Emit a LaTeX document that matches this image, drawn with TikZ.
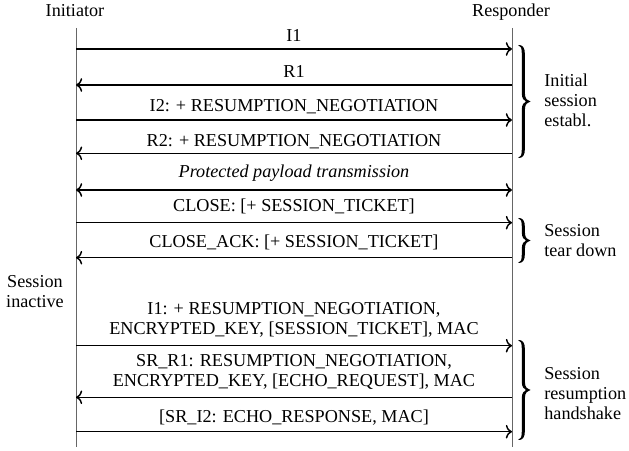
\documentclass[tikz,border=0pt]{standalone}
\usepackage{fontspec}
\setmainfont{Liberation Serif}
\usetikzlibrary{arrows.meta}
\tikzset{
  lifeline/.style={draw=black!60, line width=0.55pt},
  msgline/.style={line width=0.8pt, -{To[length=3.4pt,width=7.5pt]}},
  bimsgline/.style={line width=0.8pt, {To[length=3.4pt,width=7.5pt]}-{To[length=3.4pt,width=7.5pt]}},
  lbl/.style={font=\fontsize{10}{11.2}\selectfont, inner sep=0pt, anchor=base, align=center},
  sidelbl/.style={font=\fontsize{10}{11}\selectfont, inner sep=0pt, align=left, anchor=base west},
  bracefill/.style={fill=black},
}
% #1 = x of tips, #2 = top y, #3 = bottom y (picture pixels)
\newcommand{\respbrace}[3]{%
 \pgfmathsetmacro{\bym}{(#2+#3)/2}%
 \fill[bracefill] ({#1},{#2}) .. controls ({#1+4.5},{#2-0.4}) and ({#1+6.9},{#2+2.5}) .. ({#1+6.9},{#2+9})
   -- ({#1+6.9},{\bym-8}) .. controls ({#1+6.9},{\bym-2.5}) and ({#1+9.5},{\bym-0.6}) .. ({#1+12.5},{\bym})
   .. controls ({#1+9.5},{\bym+0.6}) and ({#1+6.9},{\bym+2.5}) .. ({#1+6.9},{\bym+8})
   -- ({#1+6.9},{#3-9}) .. controls ({#1+6.9},{#3-2.5}) and ({#1+4.5},{#3+0.4}) .. ({#1},{#3})
   .. controls ({#1+3},{#3-0.7}) and ({#1+3.8},{#3-3}) .. ({#1+3.8},{#3-9})
   -- ({#1+3.8},{\bym+8}) .. controls ({#1+3.8},{\bym+3}) and ({#1+6},{\bym+0.9}) .. ({#1+8},{\bym})
   .. controls ({#1+6},{\bym-0.9}) and ({#1+3.8},{\bym-3}) .. ({#1+3.8},{\bym-8})
   -- ({#1+3.8},{#2+9}) .. controls ({#1+3.8},{#2+3}) and ({#1+3},{#2+0.7}) .. ({#1},{#2}) -- cycle;%
}
\begin{document}
\begin{tikzpicture}[x=0.55pt,y=-0.55pt]
\useasboundingbox (0,0) rectangle (629,451);

% actors
\node[lbl] (init) at (75,17) {Initiator};
\node[lbl] (resp) at (511,17) {Responder};

% lifelines
\coordinate (Itop) at (76,28);
\coordinate (Ibot) at (76,447);
\coordinate (Rtop) at (512,28);
\coordinate (Rbot) at (512,447);
\draw[lifeline] (Itop) -- (Ibot);
\draw[lifeline] (Rtop) -- (Rbot);

% message end points
\foreach \n/\y in {a/49,b/85,c/120,d/153.3,e/190,f/222.7,g/257.7,h/345.7,i/397.3,j/431.7}{
  \coordinate (I\n) at (76,\y);
  \coordinate (R\n) at (512,\y);
}

% messages
\draw[msgline] (Ia) -- (Ra);
\draw[msgline] (Rb) -- (Ib);
\draw[msgline] (Ic) -- (Rc);
\draw[msgline] (Rd) -- (Id);
\draw[bimsgline] (Ie) -- (Re);
\draw[msgline] (If) -- (Rf);
\draw[msgline] (Rg) -- (Ig);
\draw[msgline] (Ih) -- (Rh);
\draw[msgline] (Ri) -- (Ii);
\draw[msgline] (Ij) -- (Rj);

% labels (base = baseline of last line)
\node[lbl] (la) at (294,42) {I1};
\node[lbl] (lb) at (294,78) {R1};
\node[lbl] (lc) at (294,111.5) {I2: + RESUMPTION\_NEGOTIATION};
\node[lbl] (ld) at (294,146.5) {R2: + RESUMPTION\_NEGOTIATION};
\node[lbl,font=\fontsize{10}{11.2}\selectfont\itshape] (le) at (294,177.3) {Protected payload transmission};
\node[lbl] (lf) at (294,211.5) {CLOSE: [+ SESSION\_TICKET]};
\node[lbl] (lg) at (294,247.3) {CLOSE\_ACK: [+ SESSION\_TICKET]};
\node[lbl] (lh) at (294,335) {I1: + RESUMPTION\_NEGOTIATION,\\ENCRYPTED\_KEY, [SESSION\_TICKET], MAC};
\node[lbl] (li) at (294,386.7) {SR\_R1: RESUMPTION\_NEGOTIATION,\\ENCRYPTED\_KEY, [ECHO\_REQUEST], MAC};
\node[lbl] (lj) at (294,422.7) {[SR\_I2: ECHO\_RESPONSE, MAC]};

% left state
\node[lbl] (inactive) at (35,308) {Session\\inactive};

% braces
\respbrace{518}{45}{158}
\respbrace{518}{218}{263}
\respbrace{518}{340}{440}

\node[sidelbl] (t1) at (544,127) {Initial\\session\\establ.};
\node[sidelbl] (t2) at (544,256.7) {Session\\tear down};
\node[sidelbl] (t3) at (544,420) {Session\\resumption\\handshake};
\end{tikzpicture}
\end{document}
